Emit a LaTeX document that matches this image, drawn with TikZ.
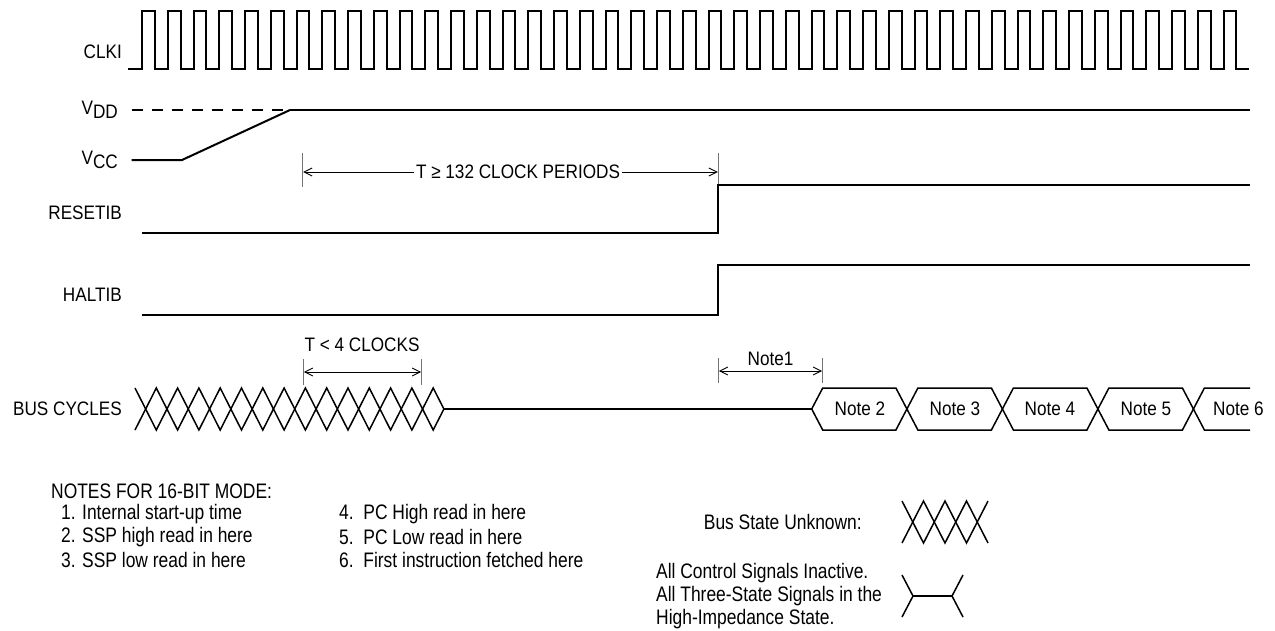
\documentclass[tikz,border=0pt]{standalone}
\usepackage{fontspec}
\setmainfont{Liberation Sans}[FakeStretch=0.88]
\newfontfamily\narrowfont{Liberation Sans}[FakeStretch=0.83]
\usetikzlibrary{arrows.meta}
\begin{document}
\begin{tikzpicture}[x=1pt,y=-1pt,
  sig/.style={line width=2pt, line join=miter, line cap=butt},
  xl/.style={line width=1.5pt, line join=miter},
  tickln/.style={black!55, line width=1pt},
  arr/.style={line width=0.9pt, -{Straight Barb[length=8pt,width=8pt]}},
  dimarr/.style={line width=0.9pt, {Straight Barb[length=8pt,width=8pt]}-{Straight Barb[length=8pt,width=8pt]}},
  lab/.style={font=\fontsize{19.5}{22}\selectfont, inner sep=0pt},
  notetxt/.style={font=\narrowfont\fontsize{21}{23}\selectfont, inner sep=0pt, anchor=west}]
\useasboundingbox (0,0) rectangle (1275,630);

% labels
\node[lab, anchor=east] (lclk) at (122,52) {CLKI};
\node[lab, anchor=east] (lvdd) at (118,110) {V\raisebox{-4.5pt}{DD}};
\node[lab, anchor=east] (lvcc) at (118,160) {V\raisebox{-4.5pt}{CC}};
\node[lab, anchor=east] (lres) at (122,212.5) {RESETIB};
\node[lab, anchor=east] (lhalt) at (122,294.5) {HALTIB};
\node[lab, anchor=east] (lbus) at (122,408.5) {BUS CYCLES};

% clock
\draw[sig] (128,69) -- (142,69)
  foreach \i in {0,...,42} { -- ++(0,-58) -- ++(12.8,0) -- ++(0,58) -- ++(12.95,0) };

% VDD / VCC
\draw[sig, dash pattern=on 11.7pt off 8.3pt] (131.7,110) -- (290,110);
\draw[sig] (290,110) -- (1250,110);
\draw[sig] (131.7,160) -- (182,160) -- (290,110);

% T >= 132 clock periods
\draw[tickln] (302.7,153) -- (302.7,187);
\draw[tickln] (718.3,153) -- (718.3,187);
\coordinate (tl) at (303.2,172);
\coordinate (tr) at (717.8,172);
\node[lab, inner xsep=2pt] (tlong) at (518,172) {T ≥ 132 CLOCK PERIODS};
\draw[arr] (tlong.west) -- (tl);
\draw[arr] (tlong.east) -- (tr);

% RESETIB, HALTIB
\draw[sig] (142,233) -- (718.3,233) -- (718.3,185) -- (1250,185);
\draw[sig] (142,315) -- (718.3,315) -- (718.3,265) -- (1250,265);

% T < 4 clocks
\node[lab] (tshort) at (362,345) {T < 4 CLOCKS};
\draw[tickln] (303.3,359) -- (303.3,385);
\draw[tickln] (421.7,359) -- (421.7,385);
\coordinate (sl) at (303.8,372);
\coordinate (sr) at (421.2,372);
\draw[dimarr] (sl) -- (sr);

% unknown bus state pattern
\draw[xl] (135,388) foreach \k in {1,...,7} { -- ++(21.3,42) -- ++(21.3,-42) } -- (443.9,409);
\draw[xl] (135,430) foreach \k in {1,...,7} { -- ++(21.3,-42) -- ++(21.3,42) } -- (443.9,409);
\draw[sig] (443.9,409) -- (811.7,409);

% Note1
\draw[tickln] (718.3,358) -- (718.3,383);
\draw[tickln] (822.7,358) -- (822.7,383);
\node[lab, anchor=south] (n1) at (770.5,366) {Note1};
\coordinate (nl) at (718.8,371);
\coordinate (nr) at (822.2,371);
\draw[dimarr] (nl) -- (nr);

% bus cycles boxes
\draw[xl] (811.7,409) -- (822.7,388) -- (895.9,388) -- (917.9,430) -- (991.4,430) -- (1013.4,388) -- (1086.9,388) -- (1108.9,430) -- (1182.4,430) -- (1204.4,388) -- (1250,388);
\draw[xl] (811.7,409) -- (822.7,430) -- (895.9,430) -- (917.9,388) -- (991.4,388) -- (1013.4,430) -- (1086.9,430) -- (1108.9,388) -- (1182.4,388) -- (1204.4,430) -- (1250,430);
\node[lab] (n2) at (860,409) {Note 2};
\node[lab] (n3) at (955,409) {Note 3};
\node[lab] (n4) at (1050,409) {Note 4};
\node[lab] (n5) at (1146,409) {Note 5};
\node[lab] (n6) at (1238.5,409) {Note 6};

% notes
\node[notetxt] (nh) at (51,491) {NOTES FOR 16-BIT MODE:};
\node[notetxt] (ni1) at (61,514) {1. Internal start-up time};
\node[notetxt] (ni2) at (61,537) {2. SSP high read in here};
\node[notetxt] (ni3) at (61,560) {3. SSP low read in here};
\node[notetxt] (ni4) at (339,514) {4.\ \ PC High read in here};
\node[notetxt] (ni5) at (339,537) {5.\ \ PC Low read in here};
\node[notetxt] (ni6) at (339,560) {6.\ \ First instruction fetched here};

% legend
\node[notetxt, anchor=east] (lgu) at (862,522) {Bus State Unknown:};
\draw[xl] (902,501) -- ++(21.5,42) -- ++(21.5,-42) -- ++(21.5,42) -- ++(21.5,-42);
\draw[xl] (902,543) -- ++(21.5,-42) -- ++(21.5,42) -- ++(21.5,-42) -- ++(21.5,42);
\node[notetxt, align=left] (lgz) at (656,596) {All Control Signals Inactive.\\All Three-State Signals in the\\High-Impedance State.};
\draw[xl] (902,575) -- (913,596) -- (902,617);
\draw[xl] (963,575) -- (952,596) -- (963,617);
\draw[line width=2.6pt] (913,596) -- (952,596);
\end{tikzpicture}
\end{document}
